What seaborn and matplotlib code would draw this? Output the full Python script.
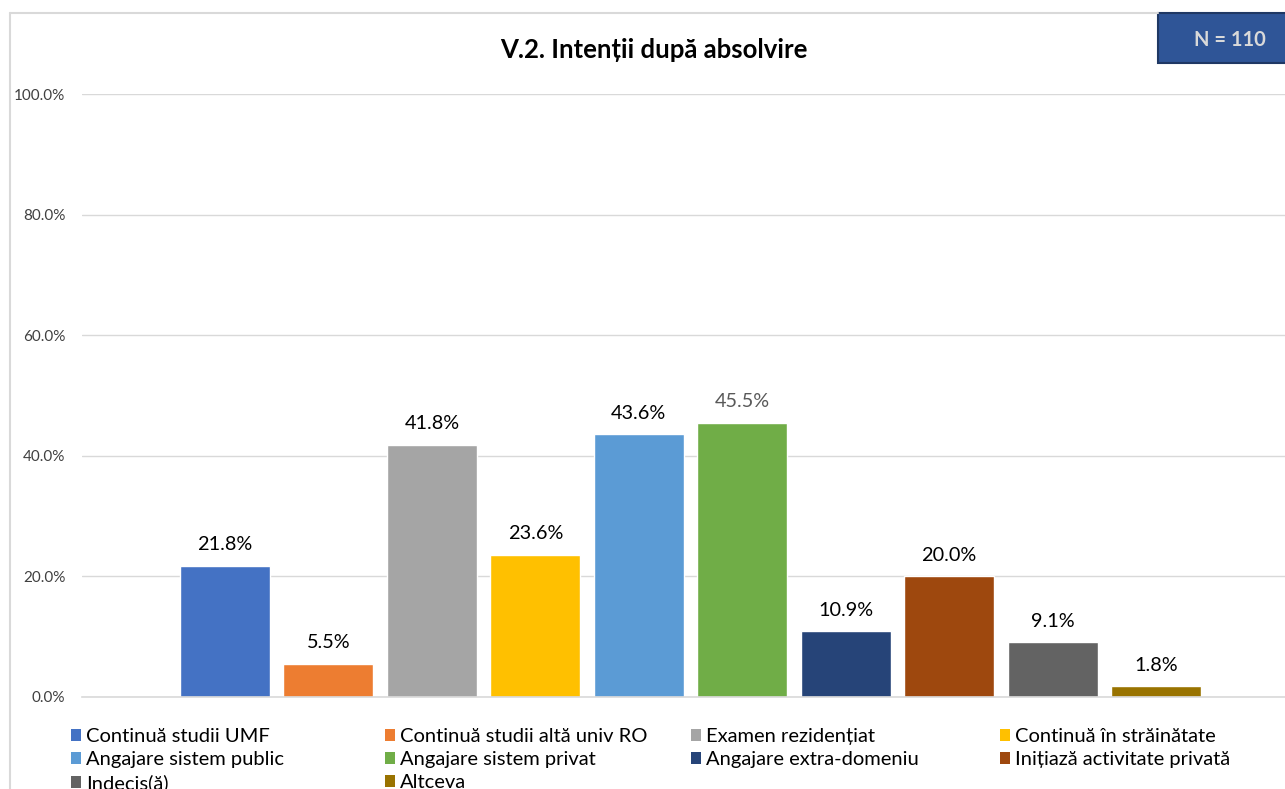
import pandas as pd
import matplotlib.pyplot as plt
import seaborn as sns
from matplotlib.patches import Patch, Rectangle
from matplotlib.lines import Line2D

sns.set_theme(style="white")
plt.rcParams['font.family'] = ['Lato', 'DejaVu Sans']

# Data
categories = ['Continuă studii UMF', 'Continuă studii altă univ RO', 'Examen rezidențiat',
              'Continuă în străinătate', 'Angajare sistem public', 'Angajare sistem privat',
              'Angajare extra-domeniu', 'Inițiază activitate privată', 'Indecis(ă)', 'Altceva']
values = [21.8, 5.5, 41.8, 23.6, 43.6, 45.5, 10.9, 20.0, 9.1, 1.8]
colors = ['#4472C4', '#ED7D31', '#A5A5A5', '#FFC000', '#5B9BD5',
          '#70AD47', '#264478', '#9E480E', '#636363', '#997300']
y_ticks = [0, 20, 40, 60, 80, 100]

df = pd.DataFrame({'cat': categories, 'val': values})

fig = plt.figure(figsize=(12.85, 7.89), dpi=100)
ax = fig.add_axes([82 / 1285, 1 - 697 / 789, (1299 - 82) / 1285, (697 - 94) / 789])

sns.barplot(data=df, x='cat', y='val', hue='cat', palette=colors, order=categories,
            hue_order=categories, width=0.87, legend=False, ax=ax, saturation=1)

ax.set_xlim(-1.383, 10.383)
ax.set_ylim(0, 100)
ax.set_yticks(y_ticks)
ax.set_yticklabels([f'{t:.1f}%' for t in y_ticks], fontsize=11, color='#404040')
ax.tick_params(axis='y', length=0, pad=12)
ax.set_xticks([])
ax.set_xlabel('')
ax.set_ylabel('')
ax.grid(axis='y', color='#D9D9D9', linewidth=1)
ax.set_axisbelow(True)
for s in ['top', 'right', 'left']:
    ax.spines[s].set_visible(False)
ax.spines['bottom'].set_color('#D9D9D9')
ax.spines['bottom'].set_linewidth(1.2)

# data labels
for c in ax.containers:
    lbls = ax.bar_label(c, fmt='%.1f%%', padding=9, fontsize=14.3, color='#000000')
    for t in lbls:
        if t.get_text() == '45.5%':
            t.set_color('#595959')

# title
fig.text(654 / 1285, 1 - 50 / 789, 'V.2. Intenții după absolvire', ha='center', va='center',
         fontsize=18.5, fontweight='bold', color='#000000')

# N box
fig.add_artist(Rectangle((1158 / 1285, 1 - 63 / 789), 0.2, 50 / 789, transform=fig.transFigure,
                         facecolor='#2F5597', edgecolor='#1F3864', linewidth=1.5))
fig.text(1230 / 1285, 1 - 40 / 789, 'N = 110', ha='center', va='center',
         fontsize=14.5, fontweight='bold', color='#D9D9D9')

# chart border
fig.add_artist(Line2D([10 / 1285, 10 / 1285], [0, 1 - 13 / 789], transform=fig.transFigure,
                      color='#D9D9D9', linewidth=1.5))
fig.add_artist(Line2D([10 / 1285, 1158 / 1285], [1 - 13 / 789, 1 - 13 / 789],
                      transform=fig.transFigure, color='#D9D9D9', linewidth=1.5))

# legend, 4 evenly spaced columns
col_x = [71, 385, 691, 1000]
for j, x in enumerate(col_x):
    idx = list(range(j, len(categories), 4))
    handles = [Patch(facecolor=colors[i], edgecolor='none') for i in idx]
    leg = fig.legend(handles, [categories[i] for i in idx], loc='upper left',
                     bbox_to_anchor=(x / 1285, 1 - 728 / 789), frameon=False, fontsize=14.5,
                     handlelength=0.5, handleheight=0.5, handletextpad=0.25,
                     labelspacing=0.3, borderpad=0, borderaxespad=0)
    for t in leg.get_texts():
        t.set_color('#000000')

fig.savefig('out.png', dpi=100)
